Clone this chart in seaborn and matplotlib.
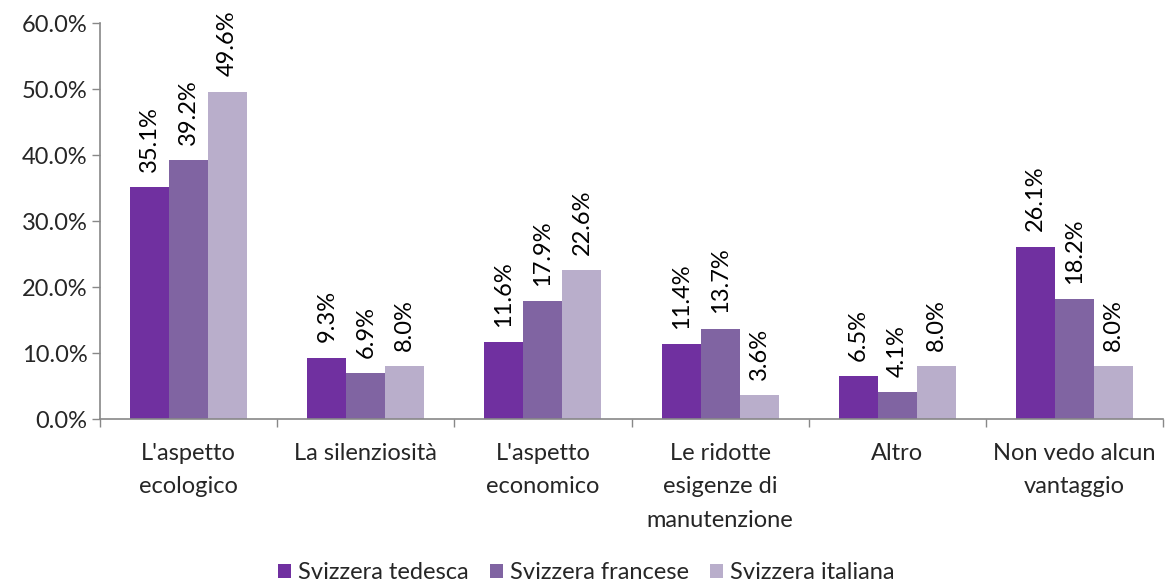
import matplotlib
matplotlib.use("Agg")
import matplotlib.pyplot as plt
import numpy as np
import pandas as pd
import seaborn as sns

categories = ["L'aspetto\necologico", "La silenziosità", "L'aspetto\neconomico",
              "Le ridotte\nesigenze di\nmanutenzione", "Altro", "Non vedo alcun\nvantaggio"]
regions = ["Svizzera tedesca", "Svizzera francese", "Svizzera italiana"]
tedesca = [35.1, 9.3, 11.6, 11.4, 6.5, 26.1]
francese = [39.2, 6.9, 17.9, 13.7, 4.1, 18.2]
italiana = [49.6, 8.0, 22.6, 3.6, 8.0, 8.0]
colors = ["#7030A0", "#8064A2", "#B9AECB"]

rows = []
for reg, vals in zip(regions, [tedesca, francese, italiana]):
    for cat, v in zip(categories, vals):
        rows.append({"cat": cat, "region": reg, "value": v})
df = pd.DataFrame(rows)

sns.set_theme(style="white")
plt.rcParams['font.family'] = ['Lato', 'DejaVu Sans']
FS = 17

fig = plt.figure(figsize=(11.73, 5.84), dpi=100)
ax = fig.add_axes([0.0853, 0.2825, 0.9062, 0.6781])

sns.barplot(data=df, x="cat", y="value", hue="region", order=categories,
            hue_order=regions, palette=colors, width=0.66, saturation=1,
            errorbar=None, ax=ax, linewidth=0)

for cont in ax.containers:
    ax.bar_label(cont, labels=[f"{v:.1f}%" for v in cont.datavalues],
                 rotation=90, padding=11, fontsize=FS, color="#000000")

ax.set_ylim(0, 60)
ax.set_xlim(-0.5, len(categories) - 0.5)
ax.set_yticks(np.arange(0, 61, 10))
ax.set_yticklabels([f"{v:.1f}%" for v in np.arange(0, 61, 10)], fontsize=FS)
ax.set_xticks(range(len(categories)))
ax.set_xticklabels(categories, fontsize=FS, linespacing=1.75, va="top")
ax.set_xticks(np.arange(-0.5, len(categories)), minor=True)
ax.tick_params(axis="x", which="major", length=0, pad=17)
ax.tick_params(axis="x", which="minor", length=6, width=1, color="#888888", direction="out", bottom=True)
ax.tick_params(axis="y", length=6, width=1, color="#888888", direction="out", left=True, pad=3)
ax.set_xlabel("")
ax.set_ylabel("")

for s in ["top", "right"]:
    ax.spines[s].set_visible(False)
for s in ["left", "bottom"]:
    ax.spines[s].set_color("#888888")
    ax.spines[s].set_linewidth(1.2)

ax.legend(loc="lower center", bbox_to_anchor=(0.5, -0.035), bbox_transform=fig.transFigure,
          ncol=3, frameon=False, fontsize=FS, handlelength=0.55, handleheight=0.55,
          handletextpad=0.3, columnspacing=0.9)

fig.savefig("out.png", dpi=100)
